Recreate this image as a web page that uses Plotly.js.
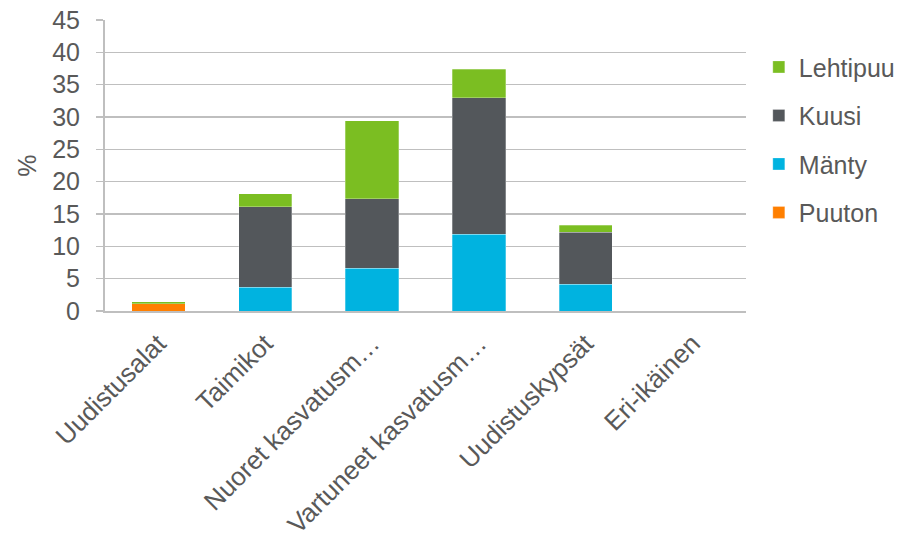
<!DOCTYPE html>
<html><head><meta charset="utf-8">
<script src="https://cdn.plot.ly/plotly-3.0.1.min.js"></script>
<style>body{margin:0;background:#fff}#chart{width:913px;height:545px}</style>
</head><body><div id="chart"></div>
<script>
const categories = ["Uudistusalat", "Taimikot", "Nuoret kasvatusm…", "Vartuneet kasvatusm…", "Uudistuskypsät", "Eri-ikäinen"];
const puuton   = [1.1, 0, 0, 0, 0, 0];
const manty    = [0, 3.7, 6.65, 11.85, 4.1, 0];
const kuusi    = [0, 12.4, 10.7, 21.1, 8.1, 0];
const lehtipuu = [0.3, 2.0, 12.05, 4.4, 1.05, 0];
const yTicks = [0, 5, 10, 15, 20, 25, 30, 35, 40, 45];

const series = [
  {name: "Puuton", y: puuton, color: "#FF7F00", rank: 4},
  {name: "Mänty", y: manty, color: "#00B3E0", rank: 3},
  {name: "Kuusi", y: kuusi, color: "#53575B", rank: 2},
  {name: "Lehtipuu", y: lehtipuu, color: "#7BBE22", rank: 1}
];
const traces = series.map(s => ({
  type: "bar", name: s.name, x: categories, y: s.y, legendgroup: s.name, legendrank: s.rank,
  marker: {color: s.color, line: {color: "rgba(255,255,255,0.35)", width: 0.8}},
  hoverinfo: "skip"
}));
const layout = {
  width: 913, height: 545,
  margin: {l: 104.5, r: 167, t: 20, b: 234},
  paper_bgcolor: "#fff", plot_bgcolor: "#fff",
  barmode: "stack", bargap: 0.5,
  font: {family: "Liberation Sans, Arial, sans-serif", color: "#595959", size: 25},
  xaxis: {
    type: "category", tickangle: -45, showgrid: false, showline: true,
    linecolor: "#bfbfbf", linewidth: 2, ticks: "", ticklabelstandoff: 5,
    tickfont: {size: 26, color: "#595959"}
  },
  yaxis: {
    range: [0, 45], tickvals: yTicks, ticktext: yTicks.map(String),
    showgrid: true, gridcolor: "#bfbfbf", gridwidth: 1.3,
    showline: true, linecolor: "#bfbfbf", linewidth: 2,
    ticks: "outside", ticklen: 7, tickcolor: "#bfbfbf", tickwidth: 1.3,
    ticklabelstandoff: 11,
    tickfont: {size: 25, color: "#595959"}, zeroline: false,
    title: {text: "%", font: {size: 25, color: "#595959"}, standoff: 8}
  },
  legend: {
    x: 1.02, y: 0.917, xanchor: "left", yanchor: "top",
    traceorder: "grouped", tracegroupgap: 13,
    font: {size: 25, color: "#595959"}, itemwidth: 30
  },
  showlegend: true
};
Plotly.newPlot("chart", traces, layout, {staticPlot: true, displayModeBar: false});
</script></body></html>
